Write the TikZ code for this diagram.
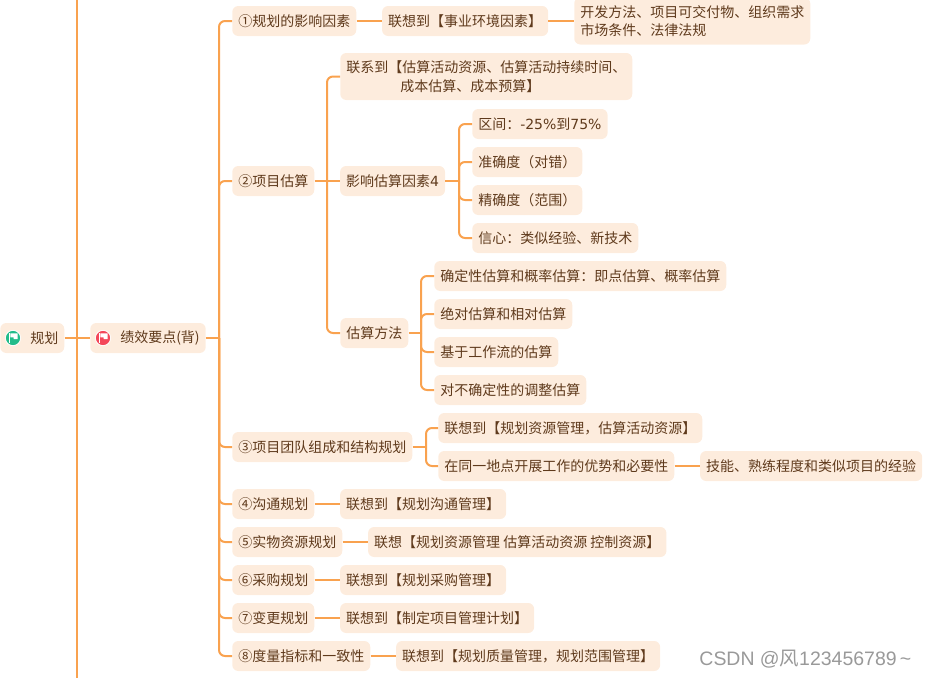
\documentclass[tikz,border=0pt]{standalone}
\usepackage{fontspec}
\setmainfont{Noto Sans CJK SC}
\newfontfamily\markfont{Liberation Sans}
\newfontfamily\digitfont{DejaVu Sans}
\newfontfamily\cjkmark{Noto Sans CJK SC}
\usetikzlibrary{positioning}
\definecolor{linkcolor}{HTML}{F9A24F}
\definecolor{boxcolor}{HTML}{FDECDD}
\definecolor{textcolor}{HTML}{5F3A1C}
\definecolor{flaggreen}{HTML}{22BC8A}
\definecolor{flagred}{HTML}{F4475A}

\begin{document}
\begin{tikzpicture}
    [x=0.75pt, y=-0.75pt,
    node distance =19pt,
    topic/.style={fill=boxcolor, text=textcolor, rounded corners=4.5pt, inner xsep=4.5pt, inner ysep=0pt,
        minimum height=22.5pt, font=\fontsize{10.5pt}{14pt}\selectfont, align=left},
    twoline/.style={topic, minimum height=35.25pt},
    link/.style={draw=linkcolor, line width=1.5pt},
    branch/.style={link, rounded corners=4.5pt},
    flagicon/.pic={
        \fill[white] (0,0) circle (6pt);
        \fill[pic actions] (0,0) circle (5.3pt);
        \fill[white] (-3pt,-3.6pt) rectangle (-1.9pt,3.6pt);
        \fill[white] (-1.9pt,3.4pt) -- (3.4pt,3.4pt) -- (3.4pt,-0.8pt) -- (0.4pt,-0.8pt) -- (0.4pt,0.4pt) -- (-1.9pt,0.4pt) -- cycle;
    }]
    \useasboundingbox (0,0) rectangle (929,678);

    \node[topic, anchor=west] (plan) at (0,338) {\hspace*{18pt}规划};
    \node[topic, anchor=west] (perf) at (90,338) {\hspace*{18pt}绩效要点(背)};
    \pic[fill=flaggreen] at (13,338) {flagicon};
    \pic[fill=flagred] at (103,338) {flagicon};

    \node[topic, anchor=west] (plana) at (232,21) {①规划的影响因素};
    \node[topic, right=of plana] (planaa) {联想到【事业环境因素】};
    \node[twoline, anchor=west] (planab) at (574,21) {开发方法、项目可交付物、组织需求\\市场条件、法律法规};

    \node[topic, anchor=west] (est) at (232,181) {②项目估算};
    \node[twoline, anchor=west] (estlink) at (340,76.5) {联系到【估算活动资源、估算活动持续时间、\\\hspace*{40.5pt}成本估算、成本预算】};
    \node[topic, right=of est] (estfac) {影响估算因素{\digitfont 4}};
    \node[topic, anchor=west] (faca) at (472,124) {区间：{\digitfont -25\%}到{\digitfont 75\%}};
    \node[topic, anchor=west] (facb) at (472,162) {准确度（对错）};
    \node[topic, anchor=west] (facc) at (472,200) {精确度（范围）};
    \node[topic, anchor=west] (facd) at (472,238) {信心：类似经验、新技术};
    \node[topic, anchor=west] (estway) at (340,333) {估算方法};
    \node[topic, anchor=west] (waya) at (434,276) {确定性估算和概率估算：即点估算、概率估算};
    \node[topic, anchor=west] (wayb) at (434,314) {绝对估算和相对估算};
    \node[topic, anchor=west] (wayc) at (434,352) {基于工作流的估算};
    \node[topic, anchor=west] (wayd) at (434,390) {对不确定性的调整估算};

    \node[topic, anchor=west] (team) at (232,447) {③项目团队组成和结构规划};
    \node[topic, anchor=west] (teama) at (438,428) {联想到【规划资源管理，估算活动资源】};
    \node[topic, anchor=west] (teamb) at (438,466) {在同一地点开展工作的优势和必要性};
    \node[topic, right=of teamb] (teamc) {技能、熟练程度和类似项目的经验};

    \node[topic, anchor=west] (comm) at (232,504) {④沟通规划};
    \node[topic, right=of comm] (comma) {联想到【规划沟通管理】};
    \node[topic, anchor=west] (phys) at (232,542) {⑤实物资源规划};
    \node[topic, right=of phys] (physa) {联想【规划资源管理 估算活动资源 控制资源】};
    \node[topic, anchor=west] (proc) at (232,580) {⑥采购规划};
    \node[topic, right=of proc] (proca) {联想到【规划采购管理】};
    \node[topic, anchor=west] (chg) at (232,618) {⑦变更规划};
    \node[topic, right=of chg] (chga) {联想到【制定项目管理计划】};
    \node[topic, anchor=west] (meas) at (232,656) {⑧度量指标和一致性};
    \node[topic, right=of meas] (measa) {联想到【规划质量管理，规划范围管理】};

    \node[text=black!40, font=\markfont\fontsize{14.6pt}{16pt}\selectfont, anchor=east] (mark) at (916,659) {CSDN @{\cjkmark 风}123456789\,\textasciitilde};

    \coordinate (railtop) at (77,0);
    \coordinate (railend) at (77,678);
    \coordinate (perfrail) at (219,338);
    \coordinate (estrail) at (327,181);
    \coordinate (facrail) at (459,181);
    \coordinate (wayrail) at (421,333);
    \coordinate (teamrail) at (426,447);

    \draw[link] (railtop) -- (railend);
    \draw[link] (plan) -- (perf);
    \draw[link] (perf) -- (perfrail);
    \draw[link] (plana) -- (planaa);
    \draw[link] (planaa) -- (planab.west |- planaa);
    \draw[link] (est) -- (estfac);
    \draw[link] (estfac) -- (facrail);
    \draw[link] (estway) -- (wayrail);
    \draw[link] (team) -- (teamrail);
    \draw[link] (teamb) -- (teamc);
    \draw[link] (comm) -- (comma);
    \draw[link] (phys) -- (physa);
    \draw[link] (proc) -- (proca);
    \draw[link] (chg) -- (chga);
    \draw[link] (meas) -- (measa);

    \foreach \kid in {plana,est,team,comm,phys,proc,chg,meas}
        \draw[branch] (perfrail) |- (\kid.west);
    \foreach \kid in {estlink,estway}
        \draw[branch] (estrail) |- (\kid.west);
    \foreach \kid in {faca,facb,facc,facd}
        \draw[branch] (facrail) |- (\kid.west);
    \foreach \kid in {waya,wayb,wayc,wayd}
        \draw[branch] (wayrail) |- (\kid.west);
    \foreach \kid in {teama,teamb}
        \draw[branch] (teamrail) |- (\kid.west);
\end{tikzpicture}
\end{document}
